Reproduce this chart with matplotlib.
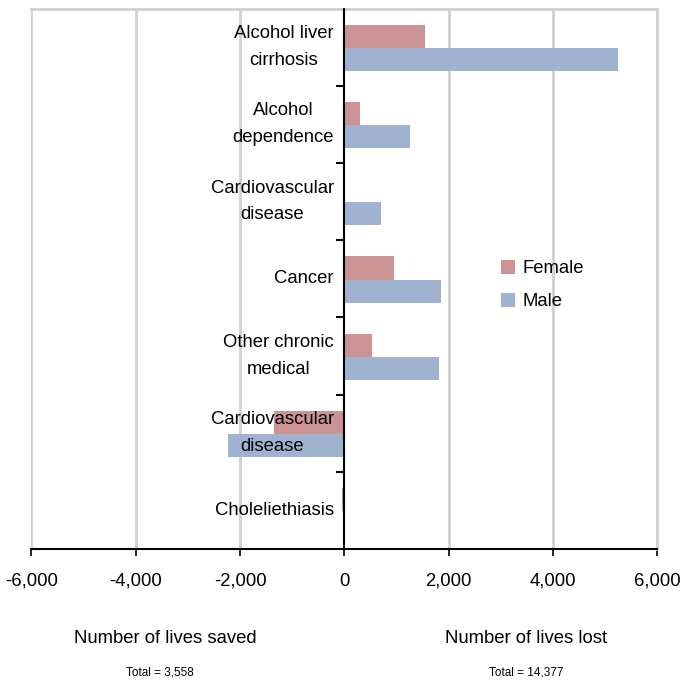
import numpy as np
import matplotlib.pyplot as plt

plt.rcParams['font.family'] = ['Liberation Sans', 'DejaVu Sans']

# datos (top -> bottom)
categorias = ['Alcohol liver\ncirrhosis', 'Alcohol\ndependence', 'Cardiovascular\ndisease',
              'Cancer', 'Other chronic\nmedical', 'Cardiovascular\ndisease', 'Choleliethiasis']
female = [1545, 295, 0, 945, 525, -1345, -40]
male = [5260, 1255, 700, 1865, 1815, -2225, -30]
xticks = [-6000, -4000, -2000, 0, 2000, 4000, 6000]

col_female = '#CB9393'
col_male = '#9FB2D0'
gris = '#D0D0D0'

fig = plt.figure(figsize=(6.83, 6.82), dpi=100)
ax = fig.add_axes([0.0461, 0.195, 0.9159, 0.7925])

n = len(categorias)
y = np.arange(n)[::-1]
h = 0.30
ax.barh(y + 0.14, female, height=h, color=col_female, label='Female', zorder=2)
ax.barh(y - 0.16, male, height=h, color=col_male, label='Male', zorder=2)

ax.set_xlim(-6000, 6000)
ax.set_ylim(-0.5, n - 0.5)

# lineas de cuadricula grises (sin la del cero)
for xv in xticks:
    if xv != 0:
        ax.axvline(xv, color=gris, lw=2, zorder=0)

ax.set_xticks(xticks)
ax.set_xticklabels([f'{v:,}' for v in xticks], fontsize=13.3)
ax.tick_params(axis='x', direction='out', length=5, width=1.2, pad=12)

# eje vertical en cero con marcas en los limites de categoria
ax.spines['left'].set_position(('data', 0))
ax.spines['left'].set_linewidth(1.5)
ax.spines['left'].set_zorder(3)
ax.set_yticks(np.arange(n - 1) + 0.5)
ax.set_yticklabels([])
ax.tick_params(axis='y', direction='out', length=6, width=1.5)
ax.spines['bottom'].set_linewidth(1.5)
for s in ['top', 'right']:
    ax.spines[s].set_color(gris)
    ax.spines[s].set_linewidth(2)

for yi, txt in zip(y, categorias):
    ax.text(-200, yi, txt, ha='right', va='center', multialignment='center',
            fontsize=13.3, linespacing=1.75, zorder=4)

ax.legend(loc='center left', bbox_to_anchor=(0.724, 0.488), frameon=False,
          handlelength=0.75, handleheight=0.75, labelspacing=0.85, fontsize=13.3,
          handletextpad=0.4)

fig.text(0.2416, 0.0645, 'Number of lives saved', ha='center', va='center', fontsize=13.3)
fig.text(0.770, 0.0645, 'Number of lives lost', ha='center', va='center', fontsize=13.3)
fig.text(0.234, 0.0132, 'Total = 3,558', ha='center', va='center', fontsize=8.5,
         family=['Liberation Sans Narrow', 'Liberation Sans'])
fig.text(0.770, 0.0132, 'Total = 14,377', ha='center', va='center', fontsize=8.5,
         family=['Liberation Sans Narrow', 'Liberation Sans'])

fig.savefig('out.png', dpi=100)
